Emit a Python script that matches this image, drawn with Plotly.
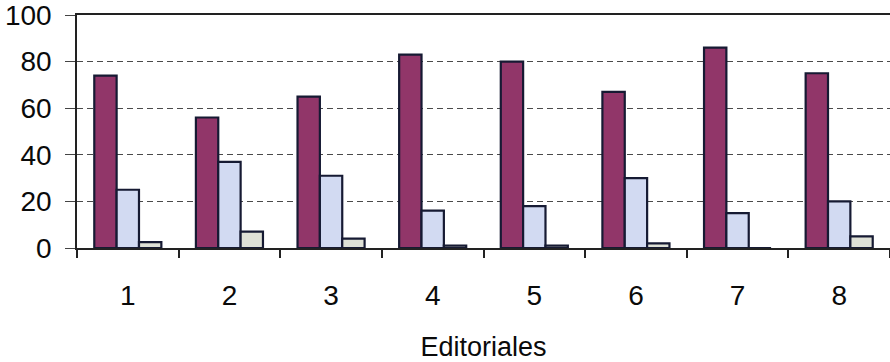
import plotly.graph_objects as go

# Editorial numbers along the x axis
editoriales = ["1", "2", "3", "4", "5", "6", "7", "8"]

# Percentages per editorial for the three series
serie_a = [74, 56, 65, 83, 80, 67, 86, 75]
serie_b = [25, 37, 31, 16, 18, 30, 15, 20]
serie_c = [2.5, 7, 4, 1, 1, 2, 0, 5]

y_ticks = [0, 20, 40, 60, 80, 100]

outline = dict(color="#161a33", width=2.2)

fig = go.Figure()
fig.add_trace(go.Bar(x=editoriales, y=serie_a, name="A",
                     marker=dict(color="#913669", line=outline)))
fig.add_trace(go.Bar(x=editoriales, y=serie_b, name="B",
                     marker=dict(color="#d2daf2", line=outline)))
fig.add_trace(go.Bar(x=editoriales, y=serie_c, name="C",
                     marker=dict(color="#dfe1d6", line=outline)))

font_family = "Liberation Sans, Arial, sans-serif"

fig.update_layout(
    width=890, height=362,
    margin=dict(l=77, r=0, t=13, b=114),
    paper_bgcolor="white", plot_bgcolor="white",
    barmode="group", bargap=0.34, bargroupgap=0,
    showlegend=False,
    font=dict(family=font_family, color="#111111"),
)

fig.update_xaxes(
    type="category", range=[-0.5, 7.5],
    tickson="boundaries", ticks="outside", ticklen=8, tickwidth=1.5,
    tickcolor="#222222",
    showline=True, linecolor="#222222", linewidth=1.5, mirror=True,
    showgrid=False,
    tickfont=dict(size=28, family=font_family, color="#0a0a0a"),
    ticklabelstandoff=22,
    title=dict(text="Editoriales", font=dict(size=27, family=font_family, color="#0a0a0a"),
               standoff=28),
)

fig.update_yaxes(
    range=[0, 100], tickvals=y_ticks,
    ticks="outside", ticklen=10, tickwidth=1, tickcolor="#444444",
    showline=True, linecolor="#222222", linewidth=1.5,
    showgrid=True, gridcolor="#4a4a4a", gridwidth=1, griddash="6px,4px",
    zeroline=False,
    tickfont=dict(size=28, family=font_family, color="#0a0a0a"),
    ticklabelstandoff=8, ticklabeloverflow="allow",
)

fig.write_html("out.html")
